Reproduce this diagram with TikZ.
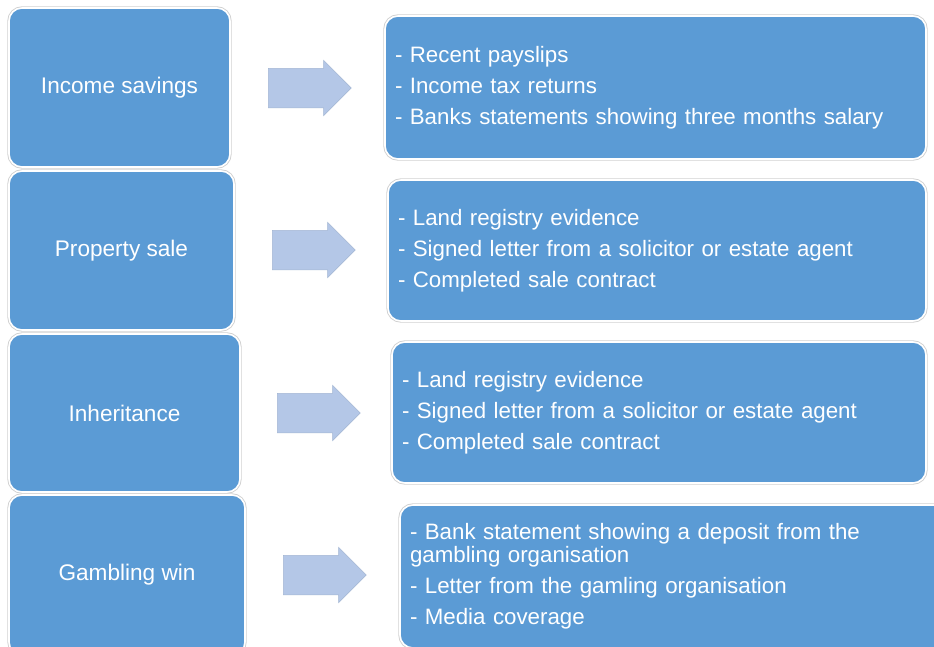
\documentclass[tikz,border=0pt]{standalone}
\usepackage{fontspec}
\setmainfont{Liberation Sans}
\usetikzlibrary{shapes.arrows}

\definecolor{boxblue}{HTML}{5B9BD5}
\definecolor{arrowblue}{HTML}{B4C7E7}
\definecolor{arrowedge}{HTML}{A3B6D3}

\begin{document}
\begin{tikzpicture}[x=1pt,y=-1pt,
  box/.style={rectangle, rounded corners=13pt, fill=boxblue, draw=white, line width=1.6pt,
    preaction={draw=black!18, line width=3.4pt}, text=white, inner sep=0pt},
  source/.style={box, font=\fontsize{22.6}{26}\selectfont},
  proof/.style={box, font=\fontsize{22.3}{31}\selectfont, align=left, inner xsep=10pt},
  blockarrow/.style={single arrow, fill=arrowblue, draw=arrowedge, line width=0.5pt, anchor=tail,
    minimum height=83pt, inner xsep=0pt, inner ysep=19.5pt, single arrow head extend=8pt}]

\useasboundingbox (0,0) rectangle (934,646);

\node[source, minimum width=221pt, minimum height=159pt] (income) at (119.5,87.5) {Income savings};
\node[source, minimum width=225pt, minimum height=159pt] (property) at (121.5,250.5) {Property sale};
\node[source, minimum width=231pt, minimum height=158pt] (inherit) at (124.5,413) {Inheritance};
\node[source, minimum width=236pt, minimum height=160pt] (gambling) at (127,575) {Gambling win};

\node[blockarrow] (a1) at (268,88) {};
\node[blockarrow] (a2) at (272,250) {};
\node[blockarrow] (a3) at (277,413) {};
\node[blockarrow] (a4) at (283,575) {};

\node[proof, text width=521pt, minimum height=143pt] (payslips) at (655.5,87.5)
  {- Recent payslips\\- Income tax returns\\- Banks statements showing three months salary};
\node[proof, text width=518pt, minimum height=141pt] (registry) at (657,250.5)
  {- Land registry evidence\\- Signed letter from a solicitor or estate agent\\- Completed sale contract};
\node[proof, text width=514pt, minimum height=141pt] (registry2) at (659,412.5)
  {- Land registry evidence\\- Signed letter from a solicitor or estate agent\\- Completed sale contract};
\node[proof, text width=530pt, minimum height=143pt] (deposit) at (675,576.5)
  {- Bank statement showing a deposit from the\\[-8pt]gambling organisation\\- Letter from the gamling organisation\\- Media coverage};

\end{tikzpicture}
\end{document}
